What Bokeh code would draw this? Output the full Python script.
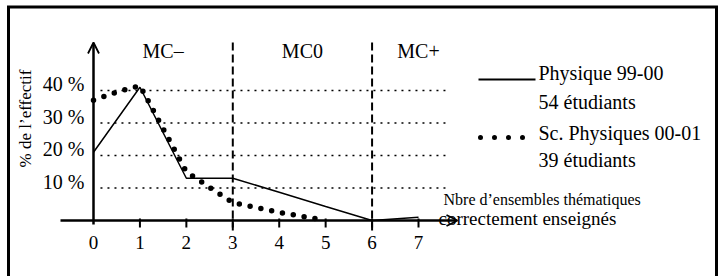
import numpy as np
from bokeh.plotting import figure
from bokeh.models import Range1d, Arrow, OpenHead
from bokeh.core.properties import value
from bokeh.embed import file_html
from bokeh.resources import INLINE

# ---------------- data ----------------
x_ticks = [0, 1, 2, 3, 4, 5, 6, 7]
x_tick_labels = ["0", "1", "2", "3", "4", "5", "6", "7"]
y_ticks = [10, 20, 30, 40]
y_tick_labels = ["10 %", "20 %", "30 %", "40 %"]

physique_x = [0, 1, 2, 3, 4, 5, 6, 7]
physique_y = [21, 41, 13, 13, 8.7, 4.3, 0, 1]          # Physique 99-00, 54 étudiants

sc_physique_x = [0, 0.5, 1, 2, 2.5, 3, 4, 5]
sc_physique_y = [37, 39.5, 41.5, 15, 10.2, 5.5, 2.5, 0]  # Sc. Physiques 00-01, 39 étudiants

region_labels = ["MC–", "MC0", "MC+"]
region_centers = [1.5, 4.5, 7.0]
region_bounds = [3, 6]

legend_line1 = ["Physique 99-00", "54 étudiants"]
legend_line2 = ["Sc. Physiques 00-01", "39 étudiants"]

y_title = "% de l’effectif"
x_title = ["Nbre d’ensembles thématiques", "correctement enseignés"]

# ---------------- page <-> data mapping ----------------
W, H = 720, 276
PX0, UX = 93.0, 46.43   # page x of data x=0, px per unit
PY0, UY = 220.0, 3.25   # page y of data y=0, px per unit


def dx(px):
    return (px - PX0) / UX


def dy(py):
    return (PY0 - py) / UY


FONT = value("Liberation Serif")
TXT = dict(text_font=FONT, text_color="black", text_baseline="middle")

p = figure(width=W, height=H,
           x_range=Range1d(dx(0), dx(W)), y_range=Range1d(dy(H), dy(0)),
           x_axis_type=None, y_axis_type=None,
           toolbar_location=None, output_backend="svg",
           min_border=0, outline_line_color=None,
           background_fill_color="white", border_fill_color="white")

# outer frame: left, top and right edges (bottom edge lies below the window)
p.line([dx(8), dx(8), dx(716), dx(716)], [dy(330), dy(6.5), dy(6.5), dy(330)],
       line_color="black", line_width=3, line_join="miter")

# dotted horizontal guide lines
p.multi_line(xs=[[0.15, 7.65] for _ in y_ticks], ys=[[v, v] for v in y_ticks],
             line_color="black", line_width=1.6, line_dash="2 5")

# dashed region boundaries
p.multi_line(xs=[[b, b] for b in region_bounds],
             ys=[[dy(230), dy(42)] for _ in region_bounds],
             line_color="black", line_width=2, line_dash="8 4")

# axes
p.add_layout(Arrow(end=OpenHead(size=11, line_width=1.8, line_color="black"),
                   x_start=dx(60), y_start=0, x_end=dx(457), y_end=0,
                   line_width=2.5, line_color="black"))
p.add_layout(Arrow(end=OpenHead(size=11, line_width=1.8, line_color="black"),
                   x_start=0, y_start=dy(224), x_end=0, y_end=dy(42),
                   line_width=2.5, line_color="black"))
p.segment(x0=x_ticks[1:], y0=[dy(218)] * 7, x1=x_ticks[1:], y1=[dy(227)] * 7,
          line_color="black", line_width=2)

# tick labels
p.text(x=x_ticks, y=[dy(241.5)] * len(x_ticks), text=x_tick_labels,
       text_font_size="19px", text_align="center", **TXT)
p.text(x=[dx(84)] * len(y_ticks), y=[v + 6.5 / UY for v in y_ticks], text=y_tick_labels,
       text_font_size="20px", text_align="right", **TXT)

# axis titles
p.text(x=[dx(25)], y=[dy(118)], text=[y_title], angle=np.pi / 2,
       text_font_size="17px", text_align="center", **TXT)
p.text(x=[dx(443)], y=[dy(199)], text=[x_title[0]],
       text_font_size="16px", text_align="left", **TXT)
p.text(x=[dx(438)], y=[dy(218)], text=[x_title[1]],
       text_font_size="19px", text_align="left", **TXT)

# region labels
p.text(x=region_centers, y=[dy(50)] * 3, text=region_labels,
       text_font_size="20px", text_align="center", **TXT)

# series
p.line(physique_x, physique_y, line_color="black", line_width=1.5)
p.line(sc_physique_x, sc_physique_y, line_color="black", line_width=5.5,
       line_cap="round", line_join="round", line_dash="0 11")

# legend
p.line([dx(478), dx(535)], [dy(79), dy(79)], line_color="black", line_width=2)
p.line([dx(480), dx(536)], [dy(137), dy(137)], line_color="black", line_width=5,
       line_cap="round", line_dash="0 14")
p.text(x=[dx(538)] * 2, y=[dy(72), dy(101)], text=legend_line1,
       text_font_size="20px", text_align="left", **TXT)
p.text(x=[dx(538)] * 2, y=[dy(132), dy(159)], text=legend_line2,
       text_font_size="20px", text_align="left", **TXT)

open("out.html", "w").write(file_html(p, INLINE))
